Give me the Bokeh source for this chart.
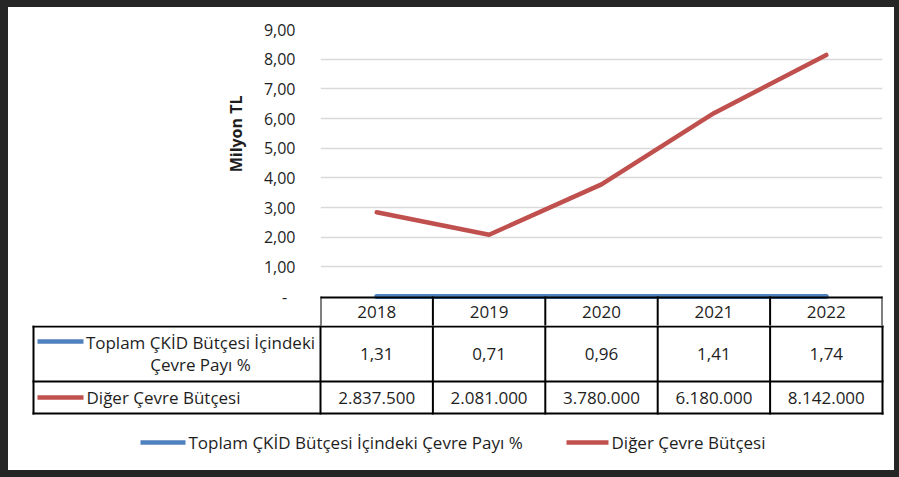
from bokeh.plotting import figure
from bokeh.models import Range1d, FixedTicker, Title
from bokeh.layouts import column
from bokeh.embed import file_html
from bokeh.resources import INLINE
from bokeh.core.properties import value

# ---------------- data ----------------
years = ["2018", "2019", "2020", "2021", "2022"]
share_pct = [1.31, 0.71, 0.96, 1.41, 1.74]                       # Toplam ÇKİD Bütçesi İçindeki Çevre Payı %
other_budget_tl = [2837500, 2081000, 3780000, 6180000, 8142000]  # Diğer Çevre Bütçesi (TL)
series_names = ["Toplam ÇKİD Bütçesi İçindeki Çevre Payı %", "Diğer Çevre Bütçesi"]
row1_label_lines = ["Toplam ÇKİD Bütçesi İçindeki", "Çevre Payı %"]
y_ticks = [0, 1, 2, 3, 4, 5, 6, 7, 8, 9]
y_tick_labels = ["-\u00a0\u00a0", "1,00", "2,00", "3,00", "4,00", "5,00", "6,00", "7,00", "8,00", "9,00"]
y_title = "Milyon TL"
UNIT = 1_000_000  # axis shows millions of TL

# ---------------- style / layout ----------------
FONT = "Open Sans"
TXT = "#1e1e1e"
BLUE = "#4f81bd"
RED = "#c0504d"
GRID = "#d9d9d9"
FRAME_BG = "#262626"

PX, PY = 8, 7                 # page offset of the white card
W, H = 886, 463
FRAME_L, FRAME_R, FRAME_T = 320, 882, 29   # page px of plot area (value 9 at top)
ZERO_Y = 296                  # page y of value 0
SPLIT_Y = 325                 # page y where the chart figure ends and the table figure starts
YMAX = 9
HA = SPLIT_Y - PY
HB = H - HA
col_px = (FRAME_R - FRAME_L) / len(years)
ppu = (ZERO_Y - FRAME_T) / YMAX

def px2x(px):
    return -0.5 + (px - FRAME_L) / col_px
def py2v(py):                 # page y -> chart value units
    return (ZERO_Y - py) / ppu
def py2y(py):                 # page y -> table figure units
    return py - SPLIT_Y

x_idx = list(range(len(years)))
other_m = [v / UNIT for v in other_budget_tl]
share_m = [v / UNIT for v in share_pct]
share_lbl = [f"{v:.2f}".replace(".", ",") for v in share_pct]
other_lbl = [f"{v:,.0f}".replace(",", ".") for v in other_budget_tl]
tkw = dict(text_font=value(FONT), text_font_size="17px", text_color=TXT, text_baseline="middle")
bkw = dict(line_color="black", line_width=2, line_cap="square")

# ---------------- chart (with header row) ----------------
pa = figure(width=W, height=HA, output_backend="svg", toolbar_location=None,
            x_range=Range1d(-0.5, len(years) - 0.5), y_range=Range1d(py2v(SPLIT_Y), YMAX),
            x_axis_location=None, min_border_left=FRAME_L - PX,
            min_border_right=W + PX - FRAME_R, min_border_top=FRAME_T - PY,
            min_border_bottom=0, background_fill_color="white", border_fill_color="white")
pa.frame_align = False
pa.outline_line_color = None
pa.xgrid.visible = False
pa.yaxis.ticker = FixedTicker(ticks=y_ticks)
pa.yaxis.major_label_overrides = {t: l for t, l in zip(y_ticks, y_tick_labels)}
pa.yaxis.axis_line_color = None
pa.yaxis.major_tick_line_color = None
pa.yaxis.minor_tick_line_color = None
pa.yaxis.major_tick_out = 0
pa.yaxis.major_tick_in = 0
pa.yaxis.major_label_standoff = 25
pa.yaxis.major_label_text_font = FONT
pa.yaxis.major_label_text_font_size = "16px"
pa.yaxis.major_label_text_color = TXT
pa.ygrid.ticker = FixedTicker(ticks=y_ticks[1:])
pa.ygrid.grid_line_color = GRID
pa.ygrid.grid_line_width = 1.5

pa.line(x_idx, other_m, line_color=RED, line_width=4.5, line_cap="round", line_join="round")
pa.line(x_idx, share_m, line_color=BLUE, line_width=5, line_cap="round", line_join="round")

# header row of the data table
hv = py2v(297)
pa.segment([-0.5], [hv], [len(years) - 0.5], [hv], **bkw)
cx = [i - 0.5 for i in range(len(years) + 1)]
pa.segment(cx, [hv] * len(cx), cx, [py2v(SPLIT_Y + 3)] * len(cx), **bkw)
pa.text(x=x_idx, y=[py2v(311.5)] * len(years), text=years, text_align="center", **tkw)

# axis title
pa.add_layout(Title(text=y_title, align="right", offset=66, standoff=27,
                    text_font=FONT, text_font_style="bold", text_font_size="16px",
                    text_color=TXT), "left")

# ---------------- rest of the table + legend ----------------
pb = figure(width=W, height=HB, output_backend="svg", toolbar_location=None,
            x_range=Range1d(px2x(PX), px2x(PX + W)), y_range=Range1d(HB, 0),
            x_axis_location=None, y_axis_location=None,
            min_border_left=0, min_border_right=0, min_border_top=0, min_border_bottom=0,
            background_fill_color="white", border_fill_color="white")
pb.frame_align = False
pb.outline_line_color = None
pb.grid.visible = False

y_h_bot, y_r1_bot, y_r2_bot = py2y(326), py2y(381), py2y(413)
x_left = px2x(33)
x_cN = len(years) - 0.5
pb.segment([x_left] * 3, [y_h_bot, y_r1_bot, y_r2_bot], [x_cN] * 3, [y_h_bot, y_r1_bot, y_r2_bot], **bkw)
vx = [x_left] + cx
vy0 = [y_h_bot] + [py2y(SPLIT_Y - 3)] * len(cx)
pb.segment(vx, vy0, vx, [y_r2_bot] * len(vx), **bkw)

pb.text(x=x_idx, y=[(y_h_bot + y_r1_bot) / 2] * len(years), text=share_lbl, text_align="center", **tkw)
pb.text(x=x_idx, y=[(y_r1_bot + y_r2_bot) / 2] * len(years), text=other_lbl, text_align="center", **tkw)

# row headers with legend keys
pb.segment([px2x(37)], [py2y(341)], [px2x(83)], [py2y(341)], line_color=BLUE, line_width=4.5)
pb.segment([px2x(37)], [py2y(397)], [px2x(83)], [py2y(397)], line_color=RED, line_width=4.5)
pb.text(x=[px2x(200), px2x(200)], y=[py2y(342), py2y(364)], text=row1_label_lines,
        text_align="center", **tkw)
pb.text(x=[px2x(86)], y=[py2y(397)], text=[series_names[1]], text_align="left", **tkw)

# bottom legend
pb.segment([px2x(140)], [py2y(442)], [px2x(185)], [py2y(442)], line_color=BLUE, line_width=4.5)
pb.segment([px2x(566)], [py2y(442)], [px2x(608)], [py2y(442)], line_color=RED, line_width=4.5)
pb.text(x=[px2x(188), px2x(611)], y=[py2y(442)] * 2, text=series_names, text_align="left", **tkw)

layout = column(pa, pb, spacing=0, styles={"background-color": "white"})
html = file_html(layout, INLINE)
css = ("<style>html, body { background-color: %s !important; } "
       "body { padding: %dpx 5px 7px %dpx !important; margin: 0 !important; }</style>"
       % (FRAME_BG, PY, PX))
i = html.rfind("</head>")
html = html[:i] + css + html[i:]
open("out.html", "w").write(html)
